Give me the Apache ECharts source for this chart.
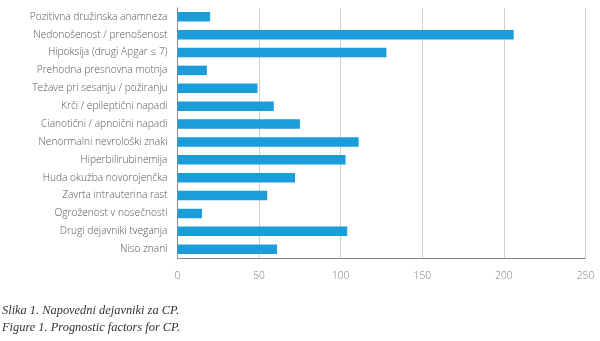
<!DOCTYPE html>
<html><head><meta charset="utf-8">
<script src="https://cdn.jsdelivr.net/npm/echarts@6/dist/echarts.min.js"></script>
<style>html,body{margin:0;padding:0;background:#fff}#c{width:600px;height:341px}</style>
</head><body><div id="c"></div>
<script>
const categories = [
  "Pozitivna družinska anamneza",
  "Nedonošenost / prenošenost",
  "Hipoksija (drugi Apgar ≤ 7)",
  "Prehodna presnovna motnja",
  "Težave pri sesanju / požiranju",
  "Krči / epileptični napadi",
  "Cianotični / apnoični napadi",
  "Nenormalni nevrološki znaki",
  "Hiperbilirubinemija",
  "Huda okužba novorojenčka",
  "Zavrta intrauterina rast",
  "Ogroženost v nosečnosti",
  "Drugi dejavniki tveganja",
  "Niso znani"
];
const values = [20, 206, 128, 18, 49, 59, 75, 111, 103, 72, 55, 15, 104, 61];
const captions = ["Slika 1. Napovedni dejavniki za CP.", "Figure 1. Prognostic factors for CP."];

const chart = echarts.init(document.getElementById('c'), null, {renderer: 'canvas'});
chart.setOption({
  animation: false,
  grid: {left: 177.5, right: 14.5, top: 7.8, bottom: 82.8, containLabel: false},
  xAxis: {
    type: 'value', min: 0, max: 250, interval: 50,
    axisLine: {show: true, lineStyle: {color: '#8a8a8a', width: 1}},
    axisTick: {show: false},
    splitLine: {show: true, lineStyle: {color: '#cfcfcf', width: 1}},
    axisLabel: {color: '#7a7a7a', fontFamily: 'Open Sans', fontSize: 10.2, fontWeight: 300, margin: 13}
  },
  yAxis: {
    type: 'category', data: categories, inverse: true,
    axisLine: {show: true, lineStyle: {color: '#8a8a8a', width: 1}},
    axisTick: {show: false},
    axisLabel: {color: '#555', fontFamily: 'Open Sans', fontSize: 10.2, fontWeight: 300, margin: 10}
  },
  series: [{
    type: 'bar', data: values, barWidth: 9.5,
    itemStyle: {color: '#1b9dd9'}
  }],
  graphic: [
    {type: 'text', left: 2, top: 305, style: {text: captions[0], font: 'italic 12.4px "Liberation Serif"', fill: '#333'}},
    {type: 'text', left: 2, top: 322, style: {text: captions[1], font: 'italic 12.4px "Liberation Serif"', fill: '#333'}}
  ]
});
</script></body></html>
